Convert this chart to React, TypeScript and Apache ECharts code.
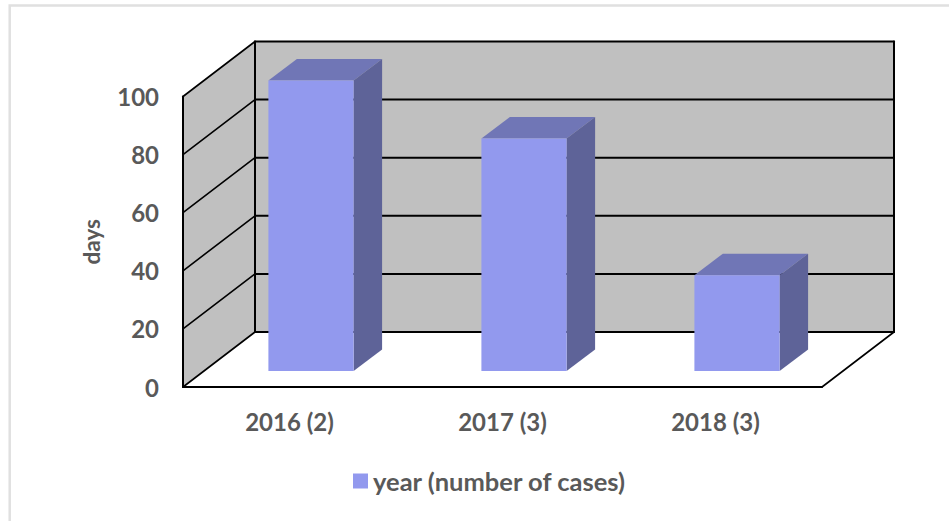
import React, { useEffect, useRef } from "react";
import * as echarts from "echarts";

const categories = ["2016 (2)", "2017 (3)", "2018 (3)"];
const days = [100, 80, 33];
const yTicks = [0, 20, 40, 60, 80, 100];
const seriesName = "year (number of cases)";
const yName = "days";

const FONT = "Lato, 'Open Sans', sans-serif";
const TEXT = "#595959";
const WALL = "#C0C0C0";
const FRONT = "#9299EE";
const TOP = "#7076B6";
const SIDE = "#5E6398";
const DEPTH_X = 72;
const DEPTH_Y = -55;
const LINE = "#000000";

const poly = (points: number[][], fill: string) => ({
  type: "polygon",
  shape: { points },
  style: { fill, stroke: "none" },
});
const seg = (a: number[], b: number[], w = 2) => ({
  type: "line",
  shape: { x1: a[0], y1: a[1], x2: b[0], y2: b[1] },
  style: { stroke: LINE, lineWidth: w, lineCap: "round" },
});

function renderWalls(_: any, api: any) {
  const band = api.size([1, 0])[0];
  const left = api.coord([0, 0])[0] - band / 2;
  const right = api.coord([categories.length - 1, 0])[0] + band / 2;
  const y0 = api.coord([0, yTicks[0]])[1];
  const yMax = api.coord([0, yTicks[yTicks.length - 1]])[1];
  const bx = left + DEPTH_X;
  const rx = right + DEPTH_X;
  const children: any[] = [
    poly(
      [
        [bx, yMax + DEPTH_Y],
        [rx, yMax + DEPTH_Y],
        [rx, y0 + DEPTH_Y],
        [bx, y0 + DEPTH_Y],
      ],
      WALL
    ),
    poly(
      [
        [left, yMax],
        [bx, yMax + DEPTH_Y],
        [bx, y0 + DEPTH_Y],
        [left, y0],
      ],
      WALL
    ),
  ];
  yTicks.forEach((t) => {
    const y = api.coord([0, t])[1];
    children.push(seg([left, y], [bx, y + DEPTH_Y], 1.6));
    children.push(seg([bx, y + DEPTH_Y], [rx, y + DEPTH_Y], 2));
  });
  children.push(seg([left, y0], [left, yMax], 2));
  children.push(seg([bx, y0 + DEPTH_Y], [bx, yMax + DEPTH_Y], 2));
  children.push(seg([rx, y0 + DEPTH_Y], [rx, yMax + DEPTH_Y], 2));
  children.push(seg([left, y0], [right, y0], 2));
  children.push(seg([right, y0], [rx, y0 + DEPTH_Y], 1.6));
  return { type: "group", children };
}

function renderBar(_: any, api: any) {
  const band = api.size([1, 0])[0];
  const w = band * 0.4;
  const base = api.coord([api.value(0), 0]);
  const topPt = api.coord([api.value(0), api.value(1)]);
  const height = base[1] - topPt[1];
  const x0 = base[0] + 21.5 - w / 2;
  const x1 = x0 + w;
  const yB = base[1] - 16;
  const yT = yB - height;
  const dx = 28.5;
  const dy = -21.5;
  return {
    type: "group",
    children: [
      poly(
        [
          [x0, yT],
          [x1, yT],
          [x1 + dx, yT + dy],
          [x0 + dx, yT + dy],
        ],
        TOP
      ),
      poly(
        [
          [x1, yT],
          [x1 + dx, yT + dy],
          [x1 + dx, yB + dy],
          [x1, yB],
        ],
        SIDE
      ),
      poly(
        [
          [x0, yT],
          [x1, yT],
          [x1, yB],
          [x0, yB],
        ],
        FRONT
      ),
    ],
  };
}

export default function App() {
  const ref = useRef<HTMLDivElement>(null);
  useEffect(() => {
    const chart = echarts.init(ref.current!, undefined, { renderer: "svg" });
    chart.setOption({
      animation: false,
      backgroundColor: "#ffffff",
      textStyle: { fontFamily: FONT },
      grid: { left: 183, right: 127, top: 96.5, bottom: 134 },
      legend: {
        data: [seriesName],
        left: 348,
        top: 463,
        itemWidth: 15,
        itemHeight: 15,
        itemGap: 9,
        icon: "rect",
        textStyle: { color: TEXT, fontFamily: FONT, fontWeight: "bold", fontSize: 25.5 },
      },
      xAxis: {
        type: "category",
        data: categories,
        axisLine: { show: false },
        axisTick: { show: false },
        axisLabel: { color: TEXT, fontFamily: FONT, fontWeight: "bold", fontSize: 24, margin: 22 },
      },
      yAxis: {
        type: "value",
        min: 0,
        max: 100,
        interval: 20,
        name: yName,
        nameLocation: "middle",
        nameGap: 80,
        nameTextStyle: { color: TEXT, fontFamily: FONT, fontWeight: "bold", fontSize: 22.5 },
        axisLine: { show: false },
        axisTick: { show: false },
        splitLine: { show: false },
        axisLabel: { color: TEXT, fontFamily: FONT, fontWeight: "bold", fontSize: 24, margin: 24, padding: [3, 0, 0, 0] },
      },
      graphic: [
        {
          type: "polyline",
          shape: { points: [[9.7, 521], [9.7, 5.5], [949, 5.5]] },
          style: { stroke: "#E0E0E0", lineWidth: 2.5, fill: "none" },
          silent: true,
        },
      ],
      series: [
        {
          type: "custom",
          name: "walls",
          renderItem: renderWalls,
          clip: false,
          silent: true,
          data: [[0, 0]],
          encode: { x: 0, y: 1 },
        },
        {
          type: "custom",
          name: seriesName,
          renderItem: renderBar,
          clip: false,
          itemStyle: { color: FRONT },
          data: days.map((v, i) => [i, v]),
          encode: { x: 0, y: 1 },
        },
      ],
    });
    return () => chart.dispose();
  }, []);
  return (
    <div
      ref={ref}
      style={{ position: "absolute", left: 0, top: 0, width: 949, height: 521 }}
    />
  );
}
